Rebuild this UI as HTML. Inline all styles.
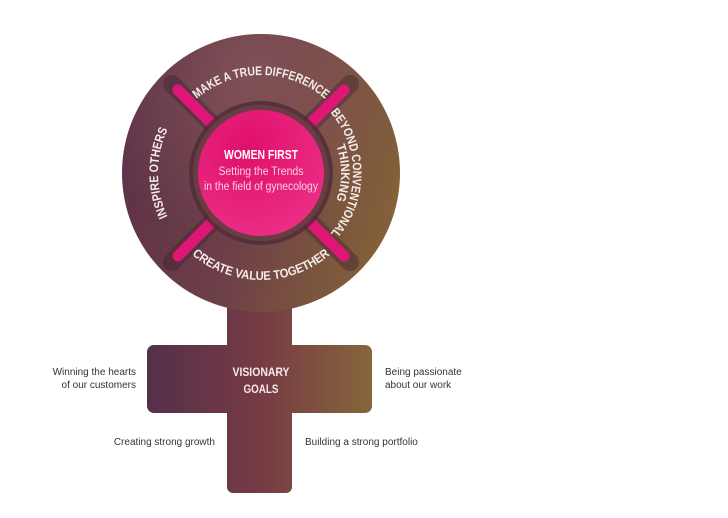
<!DOCTYPE html>
<html><head><meta charset="utf-8"><style>
html,body{margin:0;padding:0;background:#fff;width:728px;height:518px;overflow:hidden}
svg{display:block}
.arc{font-family:"Liberation Sans",sans-serif;font-weight:bold;font-size:12.5px;fill:#f4ece8}
.lbl{font-family:"Liberation Sans",sans-serif;font-size:10px;fill:#333}
</style></head><body>
<svg width="728" height="518" viewBox="0 0 728 518" xmlns="http://www.w3.org/2000/svg">
<defs>
<linearGradient id="g" gradientUnits="userSpaceOnUse" x1="122" y1="120" x2="400" y2="200">
<stop offset="0" stop-color="#5c3048"/><stop offset="0.5" stop-color="#6e4048"/><stop offset="1" stop-color="#846238"/>
</linearGradient>
<linearGradient id="gc" gradientUnits="userSpaceOnUse" x1="147" y1="0" x2="372" y2="0">
<stop offset="0" stop-color="#55304a"/><stop offset="0.5" stop-color="#763a44"/><stop offset="1" stop-color="#86663c"/>
</linearGradient>
<radialGradient id="hl" cx="0.45" cy="0.15" r="0.6">
<stop offset="0" stop-color="#9a6a66" stop-opacity="0.45"/><stop offset="1" stop-color="#9a6a66" stop-opacity="0"/>
</radialGradient>
<radialGradient id="pk" cx="0.4" cy="0.3" r="0.8">
<stop offset="0" stop-color="#e0106c"/><stop offset="1" stop-color="#ec3088"/>
</radialGradient>
<path id="pTop" d="M163,173 A98,98 0 0 1 359,173"/>
<path id="pLeft" d="M261,276 A103,103 0 0 1 261,70"/>
<path id="pR1" d="M261,81 A92,92 0 0 1 261,265"/>
<path id="pR2" d="M261,93 A80,80 0 0 1 261,253"/>
<path id="pBot" d="M154,173 A107,107 0 0 0 368,173"/>
</defs>
<rect x="147" y="345" width="225" height="68" rx="7" fill="url(#gc)"/>
<rect x="227" y="290" width="65" height="203" rx="6" fill="url(#gc)"/>
<circle cx="261" cy="173" r="139" fill="url(#g)"/>
<circle cx="261" cy="173" r="139" fill="url(#hl)"/>
<g stroke-linecap="round">
<g stroke="#3e2630" stroke-width="18" opacity="0.45">
<line x1="215" y1="127" x2="172" y2="84"/><line x1="307" y1="127" x2="350" y2="84"/>
<line x1="215" y1="219" x2="172" y2="262"/><line x1="307" y1="219" x2="350" y2="262"/>
</g>
<g stroke="#e01676" stroke-width="11">
<line x1="215" y1="127" x2="178" y2="90"/><line x1="307" y1="127" x2="344" y2="90"/>
<line x1="215" y1="219" x2="178" y2="256"/><line x1="307" y1="219" x2="344" y2="256"/>
</g>
</g>
<circle cx="261" cy="173" r="72" fill="#4e2c36" opacity="0.8"/>
<circle cx="261" cy="173" r="68" fill="#6a3c44"/>
<circle cx="261" cy="173" r="63" fill="url(#pk)"/>
<text class="arc"><textPath href="#pTop" startOffset="50%" text-anchor="middle" textLength="140" lengthAdjust="spacingAndGlyphs">MAKE A TRUE DIFFERENCE</textPath></text>
<text class="arc"><textPath href="#pLeft" startOffset="50%" text-anchor="middle" textLength="90" lengthAdjust="spacingAndGlyphs">INSPIRE OTHERS</textPath></text>
<text class="arc"><textPath href="#pR1" startOffset="50%" text-anchor="middle" textLength="132" lengthAdjust="spacingAndGlyphs">BEYOND CONVENTIONAL</textPath></text>
<text class="arc"><textPath href="#pR2" startOffset="50%" text-anchor="middle" textLength="56" lengthAdjust="spacingAndGlyphs">THINKING</textPath></text>
<text class="arc"><textPath href="#pBot" startOffset="50%" text-anchor="middle" textLength="150" lengthAdjust="spacingAndGlyphs">CREATE VALUE TOGETHER</textPath></text>
<text x="261" y="159" text-anchor="middle" font-family="Liberation Sans, sans-serif" font-weight="bold" font-size="12.5" fill="#fff" textLength="74" lengthAdjust="spacingAndGlyphs">WOMEN FIRST</text>
<text x="261" y="175" text-anchor="middle" font-family="Liberation Sans, sans-serif" font-size="11.5" fill="#fbd0e2" textLength="85" lengthAdjust="spacingAndGlyphs">Setting the Trends</text>
<text x="261" y="190" text-anchor="middle" font-family="Liberation Sans, sans-serif" font-size="11.5" fill="#fbd0e2" textLength="114" lengthAdjust="spacingAndGlyphs">in the field of gynecology</text>
<text x="261" y="376" text-anchor="middle" font-family="Liberation Sans, sans-serif" font-weight="bold" font-size="12" fill="#f4ece8" textLength="57" lengthAdjust="spacingAndGlyphs">VISIONARY</text>
<text x="261" y="393" text-anchor="middle" font-family="Liberation Sans, sans-serif" font-weight="bold" font-size="12" fill="#f4ece8" textLength="35" lengthAdjust="spacingAndGlyphs">GOALS</text>
<text class="lbl" x="136" y="375" text-anchor="end">Winning the hearts</text>
<text class="lbl" x="136" y="388" text-anchor="end">of our customers</text>
<text class="lbl" x="385" y="375">Being passionate</text>
<text class="lbl" x="385" y="388">about our work</text>
<text class="lbl" x="215" y="445" text-anchor="end">Creating strong growth</text>
<text class="lbl" x="305" y="445">Building a strong portfolio</text>
</svg>
</body></html>
